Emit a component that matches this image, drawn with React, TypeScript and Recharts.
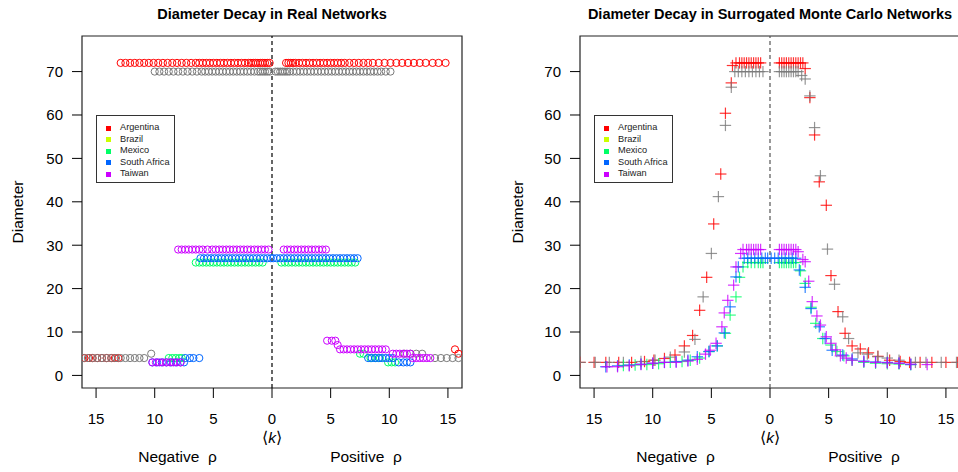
import React from 'react';
import { ScatterChart, Scatter, XAxis, YAxis, ReferenceLine, ReferenceArea } from 'recharts';

type Pt = [number, number]; // [signed <k>, diameter]

const countries = ['Argentina', 'Brazil', 'Mexico', 'South Africa', 'Taiwan'];
const legendColors = ['#FF0000', '#CCFF00', '#00FF66', '#0066FF', '#CC00FF'];
// Brazil is plotted in gray in the original figure
const pointColors = ['#FF0000', '#7A7A7A', '#00FF66', '#0066FF', '#CC00FF'];
const kTicks = [-15, -10, -5, 0, 5, 10, 15];
const diameterTicks = [0, 10, 20, 30, 40, 50, 60, 70];

// ---- Real networks (open circles) ----
const argentinaReal: Pt[] = [
  [-12.9, 72], [-12.5, 72], [-12.1, 72], [-11.7, 72], [-11.3, 72], [-10.9, 72], [-10.5, 72], [-10.1, 72],
  [-9.7, 72], [-9.3, 72], [-8.9, 72], [-8.5, 72], [-8.1, 72], [-7.7, 72], [-7.3, 72], [-6.9, 72],
  [-6.5, 72], [-6.2, 72], [-5.9, 72], [-5.6, 72], [-5.3, 72], [-5.0, 72], [-4.7, 72], [-4.4, 72],
  [-4.1, 72], [-3.8, 72], [-3.5, 72], [-3.2, 72], [-2.9, 72], [-2.6, 72], [-2.3, 72], [-2.0, 72],
  [-1.8, 72], [-1.6, 72], [-1.4, 72], [-1.2, 72], [-1.0, 72], [-0.8, 72], [-0.6, 72], [-0.4, 72], [-0.2, 72],
  [1.2, 72], [1.4, 72], [1.6, 72], [1.8, 72], [2.0, 72], [2.3, 72], [2.6, 72], [2.9, 72], [3.2, 72],
  [3.5, 72], [3.8, 72], [4.1, 72], [4.4, 72], [4.7, 72], [5.0, 72], [5.3, 72], [5.6, 72], [5.9, 72],
  [6.2, 72], [6.6, 72], [7.0, 72], [7.4, 72], [7.8, 72], [8.2, 72], [8.6, 72], [9.1, 72], [9.6, 72],
  [10.1, 72], [10.6, 72], [11.1, 72], [11.6, 72], [12.1, 72], [12.6, 72], [13.1, 72], [13.7, 72],
  [14.2, 72], [14.8, 72],
  [-16.0, 4], [-15.6, 4], [-15.3, 4], [-14.9, 4], [-14.5, 4], [-14.1, 4], [-13.7, 4], [-13.4, 4], [-13.1, 4],
  [15.6, 6], [15.9, 5],
];

const brazilReal: Pt[] = [
  [-10.0, 70], [-9.6, 70], [-9.2, 70], [-8.8, 70], [-8.4, 70], [-8.0, 70], [-7.6, 70], [-7.2, 70],
  [-6.8, 70], [-6.4, 70], [-6.0, 70], [-5.7, 70], [-5.4, 70], [-5.1, 70], [-4.8, 70], [-4.5, 70],
  [-4.2, 70], [-3.9, 70], [-3.6, 70], [-3.3, 70], [-3.0, 70], [-2.7, 70], [-2.4, 70], [-2.1, 70],
  [-1.8, 70], [-1.5, 70], [-1.2, 70], [-1.0, 70], [-0.8, 70], [-0.6, 70], [-0.4, 70], [-0.2, 70],
  [0.3, 70], [0.5, 70], [0.7, 70], [0.9, 70], [1.1, 70], [1.3, 70], [1.5, 70], [1.8, 70], [2.1, 70],
  [2.4, 70], [2.7, 70], [3.0, 70], [3.3, 70], [3.6, 70], [3.9, 70], [4.2, 70], [4.5, 70], [4.8, 70],
  [5.1, 70], [5.4, 70], [5.7, 70], [6.0, 70], [6.3, 70], [6.6, 70], [6.9, 70], [7.2, 70], [7.5, 70],
  [7.8, 70], [8.1, 70], [8.4, 70], [8.7, 70], [9.0, 70], [9.3, 70], [9.7, 70], [10.1, 70],
  [-16.1, 4], [-15.7, 4], [-15.3, 4], [-14.9, 4], [-14.5, 4], [-14.1, 4], [-13.7, 4], [-13.3, 4],
  [-12.9, 4], [-12.5, 4], [-12.1, 4], [-11.7, 4], [-11.3, 4], [-10.9, 4], [-10.3, 5],
  [11.3, 5], [11.8, 5], [12.3, 5], [12.8, 5], [13.9, 4], [14.4, 4], [14.9, 4], [15.4, 4], [15.9, 4],
];

const mexicoReal: Pt[] = [
  [-6.5, 26], [-6.2, 26], [-5.9, 26], [-5.6, 26], [-5.3, 26], [-5.0, 26], [-4.7, 26], [-4.4, 26],
  [-4.1, 26], [-3.8, 26], [-3.5, 26], [-3.2, 26], [-2.9, 26], [-2.6, 26], [-2.3, 26], [-2.0, 26],
  [-1.7, 26], [-1.4, 26], [-1.1, 26], [-0.8, 26],
  [0.8, 26], [1.1, 26], [1.4, 26], [1.7, 26], [2.0, 26], [2.3, 26], [2.6, 26], [2.9, 26], [3.2, 26],
  [3.5, 26], [3.8, 26], [4.1, 26], [4.4, 26], [4.7, 26], [5.0, 26], [5.3, 26], [5.6, 26], [5.9, 26],
  [6.2, 26], [6.5, 26], [6.8, 26], [7.1, 26],
  [-8.8, 4], [-8.5, 4], [-8.2, 4], [-7.9, 4], [-7.7, 4],
  [7.5, 5], [7.8, 5], [8.4, 4], [8.8, 4], [9.2, 4], [9.9, 3], [10.2, 3], [10.5, 3],
];

const southAfricaReal: Pt[] = [
  [-6.1, 27], [-5.8, 27], [-5.5, 27], [-5.2, 27], [-4.9, 27], [-4.6, 27], [-4.3, 27], [-4.0, 27],
  [-3.7, 27], [-3.4, 27], [-3.1, 27], [-2.8, 27], [-2.5, 27], [-2.2, 27], [-1.9, 27], [-1.6, 27],
  [-1.3, 27], [-1.0, 27], [-0.7, 27], [-0.4, 27], [-0.1, 27],
  [0.1, 27], [0.4, 27], [0.7, 27], [1.0, 27], [1.3, 27], [1.6, 27], [1.9, 27], [2.2, 27], [2.5, 27],
  [2.8, 27], [3.1, 27], [3.4, 27], [3.7, 27], [4.0, 27], [4.3, 27], [4.6, 27], [4.9, 27], [5.2, 27],
  [5.5, 27], [5.8, 27], [6.1, 27], [6.4, 27], [6.7, 27], [7.0, 27], [7.3, 27],
  [-10.2, 3], [-9.8, 3], [-9.4, 3], [-9.0, 3], [-8.6, 3], [-8.2, 3], [-7.8, 3], [-7.5, 3],
  [-7.4, 4], [-7.0, 4], [-6.7, 4], [-6.2, 4],
  [8.2, 4], [8.5, 4], [8.8, 4], [9.1, 4], [9.4, 4], [9.7, 4], [10.0, 4], [10.3, 4],
  [10.8, 3], [11.2, 3], [11.5, 3], [11.8, 3],
];

const taiwanReal: Pt[] = [
  [-8.0, 29], [-7.7, 29], [-7.4, 29], [-7.1, 29], [-6.8, 29], [-6.5, 29], [-6.2, 29], [-5.9, 29],
  [-5.5, 29], [-5.1, 29], [-4.8, 29], [-4.5, 29], [-4.2, 29], [-3.9, 29], [-3.6, 29], [-3.3, 29],
  [-3.0, 29], [-2.7, 29], [-2.4, 29], [-2.1, 29], [-1.8, 29], [-1.5, 29], [-1.2, 29], [-0.9, 29],
  [-0.6, 29], [-0.3, 29],
  [1.0, 29], [1.3, 29], [1.6, 29], [1.9, 29], [2.2, 29], [2.5, 29], [2.8, 29], [3.1, 29], [3.4, 29],
  [3.7, 29], [4.0, 29], [4.3, 29], [4.6, 29],
  [-10.2, 3], [-9.9, 3], [-9.6, 3], [-9.3, 3], [-9.0, 3], [-8.7, 3], [-8.4, 3], [-8.1, 3], [-7.8, 3],
  [4.7, 8], [5.1, 8], [5.4, 8], [5.6, 7],
  [5.8, 6], [6.1, 6], [6.4, 6], [6.7, 6], [7.0, 6], [7.3, 6], [7.6, 6], [7.9, 6], [8.2, 6], [8.5, 6],
  [8.8, 6], [9.1, 6], [9.4, 6], [9.7, 6],
  [10.3, 5], [10.6, 5], [10.9, 5], [11.2, 5], [11.5, 5], [11.8, 5],
  [12.0, 4], [12.3, 4], [12.6, 4], [12.9, 4], [13.2, 4], [13.5, 4],
];

// ---- Surrogated Monte Carlo networks (plus marks) ----
const argentinaMC: Pt[] = [
  [-16.2, 3], [-15.0, 3], [-14.0, 3], [-12.9, 3], [-11.8, 3], [-10.7, 3.2], [-9.9, 3.5], [-9.0, 3.9],
  [-8.1, 4.7], [-7.3, 6.8], [-6.6, 9.2], [-6.0, 15.0], [-5.4, 22.6], [-4.8, 34.9], [-4.2, 46.4],
  [-3.8, 60.4], [-3.3, 67.4], [-3.2, 71.4], [-2.9, 72], [-2.6, 72], [-2.4, 72], [-2.2, 72], [-2.0, 72],
  [-1.8, 72], [-1.6, 72], [-1.4, 72], [-1.2, 72], [-1.0, 72], [-0.8, 72],
  [0.8, 72], [1.0, 72], [1.2, 72], [1.4, 72], [1.6, 72], [1.8, 72], [2.0, 72], [2.2, 72], [2.4, 72],
  [2.6, 72], [2.8, 72], [3.0, 70.7], [3.4, 64.0], [3.8, 55.4], [4.2, 44.6], [4.8, 39.2], [5.2, 23.0],
  [5.8, 14.7], [6.4, 9.7], [7.0, 6.8], [7.7, 6.1], [8.4, 5.2], [9.2, 4.4], [10.2, 3.5], [11.1, 3.2],
  [11.9, 3], [12.8, 3], [13.8, 3], [15.0, 3], [16.0, 3],
];

const brazilMC: Pt[] = [
  [-16.2, 3], [-14.9, 3], [-13.7, 3], [-12.5, 3], [-11.0, 3.2], [-9.8, 3.5], [-8.5, 4.2], [-7.3, 5.4],
  [-6.4, 8.3], [-5.7, 18.1], [-5.0, 28.1], [-4.4, 41.2], [-3.8, 57.6], [-3.3, 66.4], [-3.0, 70],
  [-2.7, 70], [-2.4, 70], [-2.1, 70], [-1.8, 70], [-1.5, 70], [-1.2, 70], [-0.9, 70], [-0.6, 70],
  [0.8, 70], [1.0, 70], [1.2, 70], [1.4, 70], [1.6, 70], [1.8, 70], [2.0, 70], [2.2, 70], [2.4, 70],
  [2.7, 69.1], [3.0, 68.3], [3.4, 64.4], [3.8, 57.1], [4.3, 46.0], [4.9, 29.1], [5.5, 21.0], [6.2, 13.5],
  [6.7, 8.5], [7.5, 5.2], [8.3, 4.9], [9.2, 4.3], [10.0, 4.0], [11.0, 3.5], [12.4, 3], [13.3, 3],
  [14.6, 3], [15.9, 3],
];

const mexicoMC: Pt[] = [
  [-12.5, 2.3], [-11.5, 2.4], [-10.5, 2.5], [-9.5, 2.7], [-8.5, 3.0], [-7.5, 3.2], [-6.8, 3.5],
  [-6.0, 4.0], [-5.2, 5.5], [-4.5, 6.8], [-3.8, 9.7], [-3.4, 13.9], [-2.9, 18.1], [-2.6, 22.6],
  [-2.3, 25.0], [-1.9, 26], [-1.6, 26], [-1.3, 26], [-1.0, 26], [-0.8, 26], [-0.6, 26],
  [0.8, 26], [1.0, 26], [1.2, 26], [1.4, 26], [1.6, 26], [1.8, 26], [2.0, 26], [2.2, 26],
  [2.6, 24.1], [3.0, 21.2], [3.5, 15.7], [3.9, 12.0], [4.5, 8.5], [5.2, 7.0], [5.7, 5.5], [6.3, 4.5],
  [7.0, 3.5], [8.0, 3.0], [9.0, 2.8], [10.0, 2.7], [11.0, 2.6], [12.0, 2.5],
];

const southAfricaMC: Pt[] = [
  [-14.0, 2.0], [-13.0, 2.2], [-12.0, 2.4], [-11.0, 2.6], [-10.0, 2.8], [-9.0, 3.0], [-8.0, 3.2],
  [-7.0, 3.5], [-6.2, 4.3], [-5.2, 5.5], [-4.5, 6.8], [-3.9, 9.8], [-3.4, 15.8], [-2.9, 22.7],
  [-2.7, 25.0], [-2.2, 27], [-1.9, 27], [-1.6, 27], [-1.3, 27], [-1.0, 27], [-0.7, 27], [-0.4, 27],
  [-0.2, 27],
  [0.1, 27], [0.4, 27], [0.7, 27], [1.0, 27], [1.3, 27], [1.6, 27], [1.9, 27], [2.2, 27],
  [2.5, 24.3], [3.0, 20.3], [3.5, 15.4], [4.2, 11.2], [4.7, 8.5], [5.3, 5.8], [6.2, 4.7], [7.0, 3.8],
  [8.0, 3.3], [9.0, 3.1], [10.0, 3.0], [11.0, 2.8], [12.0, 2.5],
];

const taiwanMC: Pt[] = [
  [-13.9, 2.0], [-13.0, 2.0], [-12.0, 2.2], [-11.0, 2.5], [-10.0, 2.8], [-9.0, 3.0], [-8.0, 3.0],
  [-7.0, 3.3], [-6.2, 3.7], [-5.5, 4.9], [-5.1, 5.8], [-4.6, 7.4], [-4.1, 11.2], [-3.9, 14.4],
  [-3.6, 17.3], [-3.1, 20.8], [-2.9, 25.0], [-2.5, 28.1], [-2.3, 29], [-2.0, 29], [-1.8, 29],
  [-1.6, 29], [-1.4, 29], [-1.2, 29], [-1.0, 29], [-0.8, 29],
  [0.8, 29], [1.0, 29], [1.2, 29], [1.4, 29], [1.6, 29], [1.8, 29], [2.0, 29], [2.2, 29],
  [2.4, 28.5], [2.8, 26.7], [3.0, 26.2], [3.3, 21.7], [3.6, 17.0], [4.0, 13.7], [4.3, 11.6],
  [4.8, 8.9], [5.2, 7.4], [5.6, 5.9], [6.0, 4.5], [6.5, 4.0], [7.0, 3.5], [8.0, 3.2], [9.0, 3.0],
  [10.0, 2.9], [11.0, 2.8], [12.0, 2.6], [13.4, 2.5],
];

const realSeries = [argentinaReal, brazilReal, mexicoReal, southAfricaReal, taiwanReal];
const mcSeries = [argentinaMC, brazilMC, mexicoMC, southAfricaMC, taiwanMC];

const FONT = '"Liberation Sans", Arial, Helvetica, sans-serif';
const X_DOMAIN: [number, number] = [-16.2, 16.2];
const Y_DOMAIN: [number, number] = [-2.9, 78.2];
const PLOT_LEFT = 82;
const PLOT_W = 380;

const toRows = (pts: Pt[]) => pts.map(([k, d]) => ({ k, d }));

const circleShape = (color: string) => (props: any) => (
  <circle cx={props.cx} cy={props.cy} r={3.6} fill="none" stroke={color} strokeWidth={1} />
);

const plusShape = (color: string) => (props: any) => {
  const { cx, cy } = props;
  const h = 5.7;
  return (
    <g stroke={color} strokeWidth={1.2} strokeOpacity={0.8}>
      <line x1={cx - h} y1={cy} x2={cx + h} y2={cy} />
      <line x1={cx} y1={cy - h} x2={cx} y2={cy + h} />
    </g>
  );
};

const LegendBox = ({ left }: { left: number }) => (
  <div
    style={{
      position: 'absolute', left, top: 115, width: 79, height: 68,
      border: '1px solid #333', background: '#fff', fontFamily: FONT, fontSize: 9.2,
      color: '#222', paddingTop: 6, boxSizing: 'border-box',
    }}
  >
    {countries.map((c, i) => (
      <div key={c} style={{ position: 'relative', height: 11.5, lineHeight: '11.5px' }}>
        <span style={{ position: 'absolute', left: 8.5, top: 3.5, width: 5, height: 5, background: legendColors[i] }} />
        <span style={{ position: 'absolute', left: 23 }}>{c}</span>
      </div>
    ))}
  </div>
);

interface PanelProps {
  left: number;
  title: string;
  series: Pt[][];
  marker: 'circle' | 'plus';
  dashColor: string;
}

const Panel: React.FC<PanelProps> = ({ left, title, series, marker, dashColor }) => {
  const text = (content: React.ReactNode, x: number, y: number, extra: React.CSSProperties = {}) => (
    <div
      style={{
        position: 'absolute', left: x - 200, top: y - 10, width: 400, height: 20, lineHeight: '20px',
        textAlign: 'center', fontFamily: FONT, color: '#000', whiteSpace: 'pre', ...extra,
      }}
    >
      {content}
    </div>
  );
  const cx = PLOT_LEFT + PLOT_W / 2;
  return (
    <div style={{ position: 'absolute', left, top: 0, width: 480, height: 472 }}>
      <ScatterChart width={480} height={472} margin={{ top: 36, right: 18, bottom: 54, left: 22 }}>
        <XAxis
          type="number"
          dataKey="k"
          domain={X_DOMAIN}
          allowDataOverflow
          ticks={kTicks}
          tickFormatter={(v: number) => String(Math.abs(v))}
          axisLine={false}
          tickLine={{ stroke: '#000' }}
          tickSize={10}
          tickMargin={15}
          height={30}
          tick={{ fill: '#000', fontSize: 15, fontFamily: FONT }}
        />
        <YAxis
          type="number"
          dataKey="d"
          domain={Y_DOMAIN}
          allowDataOverflow
          ticks={diameterTicks}
          axisLine={false}
          tickLine={{ stroke: '#000' }}
          tickSize={10}
          tickMargin={9}
          width={60}
          tick={{ fill: '#000', fontSize: 15, fontFamily: FONT }}
        />
        <ReferenceArea
          x1={X_DOMAIN[0]} x2={X_DOMAIN[1]} y1={Y_DOMAIN[0]} y2={Y_DOMAIN[1]}
          fill="none" fillOpacity={0} stroke="#222" strokeWidth={1.2}
        />
        <ReferenceLine x={0} stroke={dashColor} strokeDasharray="4 3" strokeWidth={1.2} />
        {series.map((pts, i) => (
          <Scatter
            key={countries[i]}
            name={countries[i]}
            data={toRows(pts)}
            isAnimationActive={false}
            shape={marker === 'circle' ? circleShape(pointColors[i]) : plusShape(pointColors[i])}
          />
        ))}
      </ScatterChart>
      {text(title, cx, 14, { fontWeight: 'bold', fontSize: 14.5 })}
      {text(<span>⟨<i>k</i>⟩</span>, cx, 438, { fontSize: 15.5 })}
      {text('Negative  ρ', PLOT_LEFT + 95.5, 457, { fontSize: 15.5 })}
      {text('Positive  ρ', PLOT_LEFT + 284, 457, { fontSize: 15.5 })}
      {text('Diameter', left === 0 ? 18 : 20, 212, { fontSize: 15.5, transform: 'rotate(-90deg)' })}
      <LegendBox left={PLOT_LEFT + 14} />
    </div>
  );
};

export default function App() {
  return (
    <div style={{ position: 'absolute', left: 0, top: 0, width: 958, height: 472, overflow: 'hidden', background: '#fff' }}>
      <Panel left={0} title="Diameter Decay in Real Networks" series={realSeries} marker="circle" dashColor="#000" />
      <Panel
        left={498}
        title="Diameter Decay in Surrogated Monte Carlo Networks"
        series={mcSeries}
        marker="plus"
        dashColor="#555"
      />
    </div>
  );
}
